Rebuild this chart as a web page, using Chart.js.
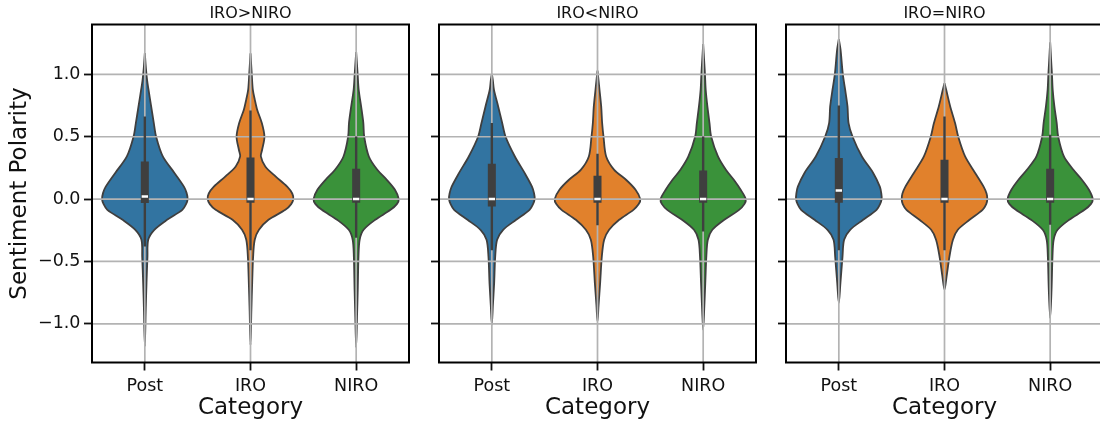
<!DOCTYPE html>
<html>
<head>
<meta charset="utf-8">
<script src="https://cdn.jsdelivr.net/npm/chart.js@4/dist/chart.umd.min.js"></script>
<style>
html,body{margin:0;padding:0;background:#fff;}
body{width:1100px;height:423px;overflow:hidden;position:relative;}
.p{position:absolute;top:0;}
canvas{display:block;}
</style>
</head>
<body>
<div class="p" style="left:0px"><canvas id="c0" width="420" height="423"></canvas></div>
<div class="p" style="left:420px"><canvas id="c1" width="350" height="423"></canvas></div>
<div class="p" style="left:770px"><canvas id="c2" width="340" height="423"></canvas></div>
<script>
// ---------------- data ----------------
const categories = ['Post', 'IRO', 'NIRO'];
const panelTitles = ['IRO>NIRO', 'IRO<NIRO', 'IRO=NIRO'];
const yTickValues = [-1.0, -0.5, 0.0, 0.5, 1.0];
const yTickLabels = ['\u22121.0', '\u22120.5', '0.0', '0.5', '1.0'];
const yTitle = 'Sentiment Polarity';
const xTitle = 'Category';
const violinColors = ['#3274a1', '#e1812c', '#3a923a'];

// violin outlines: sentiment values (top to bottom) and half-widths of the density
const p1PostY = [1.17, 1.05, 0.95, 0.877, 0.743, 0.61, 0.5, 0.342, 0.21, 0.1, 0.05, 0, -0.04, -0.086, -0.166, -0.246, -0.326, -0.46, -0.67, -0.9, -1.18];
const p1PostW = [0, 0.01, 0.022, 0.035, 0.06, 0.085, 0.107, 0.17, 0.28, 0.37, 0.395, 0.405, 0.39, 0.355, 0.21, 0.09, 0.032, 0.025, 0.016, 0.008, 0];
const p1IroY = [1.17, 1.0, 0.877, 0.8, 0.717, 0.61, 0.5, 0.396, 0.342, 0.262, 0.182, 0.1, 0.045, 0, -0.04, -0.086, -0.166, -0.246, -0.326, -0.46, -0.67, -0.9, -1.17];
const p1IroW = [0, 0.012, 0.022, 0.04, 0.063, 0.107, 0.132, 0.11, 0.098, 0.14, 0.237, 0.347, 0.395, 0.405, 0.385, 0.33, 0.17, 0.08, 0.04, 0.025, 0.016, 0.008, 0];
const p1NiroY = [1.18, 1.0, 0.877, 0.743, 0.61, 0.5, 0.342, 0.235, 0.155, 0.075, 0, -0.04, -0.086, -0.166, -0.246, -0.326, -0.46, -0.727, -0.95, -1.19];
const p1NiroW = [0, 0.014, 0.024, 0.047, 0.068, 0.076, 0.12, 0.2, 0.29, 0.367, 0.403, 0.385, 0.325, 0.18, 0.07, 0.033, 0.022, 0.015, 0.008, 0];

const p2PostY = [1.005, 0.95, 0.877, 0.743, 0.61, 0.5, 0.342, 0.21, 0.1, 0.045, 0, -0.04, -0.086, -0.166, -0.246, -0.326, -0.46, -0.674, -0.85, -1.008];
const p2PostW = [0, 0.01, 0.02, 0.06, 0.098, 0.13, 0.218, 0.31, 0.38, 0.4, 0.405, 0.39, 0.357, 0.23, 0.107, 0.05, 0.032, 0.022, 0.01, 0];
const p2IroY = [1.03, 0.95, 0.877, 0.743, 0.61, 0.5, 0.342, 0.235, 0.155, 0.075, 0, -0.04, -0.086, -0.166, -0.246, -0.326, -0.46, -0.674, -0.85, -0.98];
const p2IroW = [0, 0.01, 0.019, 0.035, 0.044, 0.057, 0.082, 0.158, 0.27, 0.36, 0.405, 0.39, 0.34, 0.205, 0.11, 0.063, 0.041, 0.025, 0.01, 0];
const p2NiroY = [1.243, 1.1, 1.0, 0.877, 0.743, 0.61, 0.5, 0.342, 0.235, 0.155, 0.075, 0, -0.04, -0.086, -0.166, -0.246, -0.326, -0.46, -0.674, -0.88, -1.048];
const p2NiroW = [0, 0.01, 0.017, 0.024, 0.04, 0.06, 0.076, 0.14, 0.215, 0.29, 0.355, 0.403, 0.39, 0.34, 0.2, 0.087, 0.044, 0.03, 0.02, 0.01, 0];

const p3PostY = [1.283, 1.2, 1.0, 0.877, 0.743, 0.61, 0.5, 0.342, 0.21, 0.1, 0.045, 0, -0.04, -0.086, -0.166, -0.246, -0.326, -0.46, -0.674, -0.834];
const p3PostW = [0, 0.016, 0.038, 0.06, 0.082, 0.092, 0.13, 0.218, 0.325, 0.388, 0.402, 0.405, 0.39, 0.357, 0.23, 0.107, 0.05, 0.035, 0.015, 0];
const p3IroY = [0.93, 0.877, 0.743, 0.61, 0.5, 0.342, 0.21, 0.1, 0.045, 0, -0.04, -0.086, -0.166, -0.246, -0.326, -0.46, -0.62, -0.727];
const p3IroW = [0, 0.016, 0.054, 0.1, 0.13, 0.195, 0.29, 0.37, 0.398, 0.405, 0.395, 0.36, 0.237, 0.126, 0.08, 0.047, 0.02, 0];
const p3NiroY = [1.257, 1.1, 1.0, 0.877, 0.743, 0.61, 0.5, 0.342, 0.235, 0.155, 0.075, 0, -0.04, -0.086, -0.166, -0.246, -0.326, -0.46, -0.727, -0.955];
const p3NiroW = [0, 0.01, 0.017, 0.024, 0.04, 0.062, 0.076, 0.13, 0.22, 0.3, 0.367, 0.403, 0.385, 0.325, 0.18, 0.07, 0.033, 0.022, 0.013, 0];

// inner box statistics per panel, in category order Post, IRO, NIRO
const p1Q1 = [-0.032, -0.03, -0.03];
const p1Median = [0.021, 0.0, 0.0];
const p1Q3 = [0.302, 0.334, 0.243];
const p1WhiskerLo = [-0.38, -0.41, -0.31];
const p1WhiskerHi = [0.663, 0.71, 0.503];

const p2Q1 = [-0.059, -0.03, -0.03];
const p2Median = [0.0, 0.0, 0.0];
const p2Q3 = [0.283, 0.187, 0.23];
const p2WhiskerLo = [-0.41, -0.21, -0.26];
const p2WhiskerHi = [0.61, 0.364, 0.503];

const p3Q1 = [-0.03, -0.03, -0.03];
const p3Median = [0.07, 0.0, 0.0];
const p3Q3 = [0.33, 0.315, 0.243];
const p3WhiskerLo = [-0.41, -0.41, -0.206];
const p3WhiskerHi = [0.75, 0.663, 0.516];

const panels = [
  { title: panelTitles[0], violins: [[p1PostY, p1PostW], [p1IroY, p1IroW], [p1NiroY, p1NiroW]],
    q1: p1Q1, med: p1Median, q3: p1Q3, lo: p1WhiskerLo, hi: p1WhiskerHi },
  { title: panelTitles[1], violins: [[p2PostY, p2PostW], [p2IroY, p2IroW], [p2NiroY, p2NiroW]],
    q1: p2Q1, med: p2Median, q3: p2Q3, lo: p2WhiskerLo, hi: p2WhiskerHi },
  { title: panelTitles[2], violins: [[p3PostY, p3PostW], [p3IroY, p3IroW], [p3NiroY, p3NiroW]],
    q1: p3Q1, med: p3Median, q3: p3Q3, lo: p3WhiskerLo, hi: p3WhiskerHi }
];

// ---------------- style ----------------
const FONT = 'DejaVu Sans';
const TEXT = '#111111';
const INNER = '#3f3f3f';
const GRID = '#b3b3b3';
const Y_MIN = -1.31, Y_MAX = 1.40;
const layoutCfg = [
  { yWidth: 92, right: 11, showYLabels: true },
  { yWidth: 19, right: 14, showYLabels: false },
  { yWidth: 16, right: 7, showYLabels: false }
];

function violinPolygon(center, ys, ws) {
  const right = ys.map((y, i) => ({ x: center + ws[i], y: y }));
  const left = ys.map((y, i) => ({ x: center - ws[i], y: y })).reverse();
  return right.concat(left.slice(1));
}

function drawGrid(chart) {
  const { ctx, chartArea: a, scales: { x, y } } = chart;
  ctx.save();
  ctx.beginPath();
  ctx.rect(a.left, a.top, a.right - a.left, a.bottom - a.top);
  ctx.clip();
  ctx.strokeStyle = GRID;
  ctx.lineWidth = 1.7;
  categories.forEach((c, i) => {
    const px = x.getPixelForValue(i);
    ctx.beginPath(); ctx.moveTo(px, a.top); ctx.lineTo(px, a.bottom); ctx.stroke();
  });
  yTickValues.forEach(v => {
    const py = y.getPixelForValue(v);
    ctx.beginPath(); ctx.moveTo(a.left, py); ctx.lineTo(a.right, py); ctx.stroke();
  });
  ctx.restore();
}

const layerPlugin = {
  id: 'layerPlugin',
  beforeDraw(chart) { chart.$gridDone = false; },
  beforeDatasetDraw(chart, args) {
    const ds = chart.data.datasets[args.index];
    if (ds.kind !== 'violin' && !chart.$gridDone) { drawGrid(chart); chart.$gridDone = true; }
  },
  afterDatasetsDraw(chart) {
    if (!chart.$gridDone) { drawGrid(chart); chart.$gridDone = true; }
  },
  afterDraw(chart) {
    const { ctx, chartArea: a } = chart;
    ctx.save();
    ctx.strokeStyle = '#000';
    ctx.lineWidth = 2;
    ctx.strokeRect(a.left, a.top, a.right - a.left, a.bottom - a.top);
    ctx.restore();
  }
};

function buildChart(k) {
  const p = panels[k];
  const L = layoutCfg[k];
  const datasets = [];
  p.violins.forEach((v, i) => {
    datasets.push({
      kind: 'violin',
      data: violinPolygon(i, v[0], v[1]),
      borderColor: INNER, borderWidth: 1.8,
      backgroundColor: violinColors[i],
      fill: 'shape', tension: 0.3,
      pointRadius: 0, order: 10
    });
  });
  categories.forEach((c, i) => {
    datasets.push({
      kind: 'whisker',
      data: [{ x: i, y: p.lo[i] }, { x: i, y: p.hi[i] }],
      borderColor: INNER, borderWidth: 2.4, borderCapStyle: 'butt',
      fill: false, pointRadius: 0, order: 5
    });
    datasets.push({
      kind: 'box',
      data: [{ x: i, y: p.q1[i] }, { x: i, y: p.q3[i] }],
      borderColor: INNER, borderWidth: 8, borderCapStyle: 'butt',
      fill: false, pointRadius: 0, order: 4
    });
    datasets.push({
      kind: 'median',
      data: [{ x: i - 0.03, y: p.med[i] }, { x: i + 0.03, y: p.med[i] }],
      borderColor: '#ffffff', borderWidth: 2.5, borderCapStyle: 'butt',
      fill: false, pointRadius: 0, order: 3
    });
  });

  return new Chart(document.getElementById('c' + k), {
    type: 'line',
    data: { datasets: datasets },
    plugins: [layerPlugin],
    options: {
      responsive: false,
      devicePixelRatio: 1,
      animation: false,
      events: [],
      layout: { padding: { left: 0, right: L.right, top: 0, bottom: 0 } },
      plugins: {
        legend: { display: false },
        tooltip: { enabled: false },
        title: {
          display: true, text: p.title, fullSize: false,
          font: { family: FONT, size: 16, weight: 'normal' }, color: TEXT,
          padding: { top: 4, bottom: 1.3 }
        }
      },
      scales: {
        x: {
          type: 'linear', min: -0.5, max: 2.5,
          afterBuildTicks: s => { s.ticks = categories.map((c, i) => ({ value: i })); },
          afterFit: s => { s.height = 60.5; },
          ticks: {
            callback: (v) => categories[Math.round(v)],
            font: { family: FONT, size: 17.5 }, color: TEXT,
            padding: 5, maxRotation: 0, autoSkip: false
          },
          grid: { display: true, drawOnChartArea: false, drawTicks: true, tickLength: 8, tickWidth: 1.8, tickColor: '#111' },
          border: { display: false },
          title: {
            display: true, text: xTitle,
            font: { family: FONT, size: 23 }, color: TEXT,
            padding: { top: 0, bottom: 1.1 }
          }
        },
        y: {
          type: 'linear', min: Y_MIN, max: Y_MAX,
          afterBuildTicks: s => { s.ticks = yTickValues.map(v => ({ value: v })); },
          afterFit: s => { s.width = L.yWidth; },
          ticks: {
            callback: (v, i) => L.showYLabels ? yTickLabels[i] : '',
            font: { family: FONT, size: 17.5 }, color: TEXT,
            padding: 3.5, autoSkip: false
          },
          grid: { display: true, drawOnChartArea: false, drawTicks: true, tickLength: 8, tickWidth: 1.8, tickColor: '#111' },
          border: { display: false },
          title: {
            display: L.showYLabels, text: yTitle,
            font: { family: FONT, size: 23 }, color: TEXT,
            padding: { top: 6.2, bottom: 0 }
          }
        }
      }
    }
  });
}

[0, 1, 2].forEach(buildChart);
</script>
</body>
</html>
